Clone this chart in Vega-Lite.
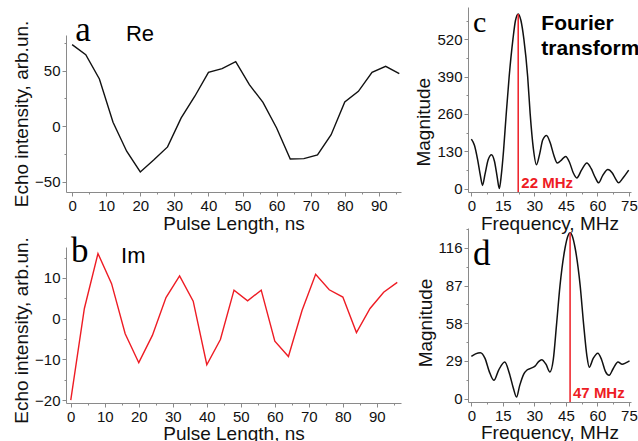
{
  "$schema": "https://vega.github.io/schema/vega-lite/v6.json",
  "padding": {"left": 12, "top": 7, "right": 0, "bottom": 0},
  "background": "white",
  "datasets": {
    "echo": [
      {"t": 0, "re": 73.3, "im": -20},
      {"t": 4, "re": 64.3, "im": 2.5},
      {"t": 8, "re": 42.5, "im": 16.0},
      {"t": 12, "re": 3.6, "im": 8.6},
      {"t": 16, "re": -22.4, "im": -3.7},
      {"t": 20, "re": -41, "im": -10.8},
      {"t": 24, "re": -30, "im": -4.1},
      {"t": 28, "re": -18.5, "im": 5.2},
      {"t": 32, "re": 7.5, "im": 10.5},
      {"t": 36, "re": 27, "im": 4.3},
      {"t": 40, "re": 48.5, "im": -11.3},
      {"t": 44, "re": 51.8, "im": -5.1},
      {"t": 48, "re": 58, "im": 7.0},
      {"t": 52, "re": 37.4, "im": 4.4},
      {"t": 56, "re": 21.5, "im": 7.0},
      {"t": 60, "re": -1.5, "im": -5.5},
      {"t": 64, "re": -29.3, "im": -9.3},
      {"t": 68, "re": -29, "im": 2.0},
      {"t": 72, "re": -25.7, "im": 10.9},
      {"t": 76, "re": -7.5, "im": 7.1},
      {"t": 80, "re": 21.9, "im": 5.3},
      {"t": 84, "re": 31.4, "im": -3.4},
      {"t": 88, "re": 48.5, "im": 2.5},
      {"t": 92, "re": 53.9, "im": 6.5},
      {"t": 96, "re": 47.3, "im": 8.9}
    ],
    "fc": [
      {"f": 0, "m": 172}, {"f": 1.5, "m": 150}, {"f": 3, "m": 100}, {"f": 4.3, "m": 45}, {"f": 5.3, "m": 11},
      {"f": 6.5, "m": 50}, {"f": 8, "m": 100}, {"f": 9.6, "m": 118}, {"f": 11, "m": 95}, {"f": 12.3, "m": 40},
      {"f": 13.3, "m": 0}, {"f": 14.3, "m": 50}, {"f": 15.3, "m": 130}, {"f": 16.5, "m": 250}, {"f": 18, "m": 390},
      {"f": 19.8, "m": 520}, {"f": 21, "m": 585}, {"f": 22.3, "m": 608}, {"f": 23.6, "m": 585}, {"f": 25, "m": 520},
      {"f": 26.8, "m": 390}, {"f": 28, "m": 260}, {"f": 29.5, "m": 140}, {"f": 31, "m": 83}, {"f": 32.5, "m": 120},
      {"f": 34, "m": 170}, {"f": 35.8, "m": 185}, {"f": 37.5, "m": 160}, {"f": 39.3, "m": 115}, {"f": 40.9, "m": 89},
      {"f": 43, "m": 100}, {"f": 44.9, "m": 112}, {"f": 46.8, "m": 90}, {"f": 48.5, "m": 55}, {"f": 50.2, "m": 37},
      {"f": 52.5, "m": 65}, {"f": 55, "m": 89}, {"f": 57, "m": 70}, {"f": 59, "m": 38}, {"f": 60.6, "m": 20},
      {"f": 62.5, "m": 45}, {"f": 65, "m": 66}, {"f": 67, "m": 55}, {"f": 68.8, "m": 32}, {"f": 70.1, "m": 20},
      {"f": 72, "m": 35}, {"f": 74.9, "m": 64}
    ],
    "fd": [
      {"f": 0, "m": 32.6}, {"f": 2, "m": 34.5}, {"f": 4.3, "m": 35.4}, {"f": 6.5, "m": 31}, {"f": 8.5, "m": 21},
      {"f": 10.7, "m": 14.1}, {"f": 13, "m": 22}, {"f": 15.9, "m": 28.2}, {"f": 18, "m": 20}, {"f": 20, "m": 8},
      {"f": 21.5, "m": 1.2}, {"f": 23, "m": 10}, {"f": 25, "m": 19}, {"f": 26.5, "m": 22}, {"f": 28.5, "m": 23.5},
      {"f": 30.3, "m": 25}, {"f": 32, "m": 28.5}, {"f": 33.5, "m": 30}, {"f": 35.5, "m": 26.5}, {"f": 37.4, "m": 20.5},
      {"f": 39, "m": 30}, {"f": 40.6, "m": 58}, {"f": 42.2, "m": 87}, {"f": 44.6, "m": 116}, {"f": 46, "m": 125.5},
      {"f": 47, "m": 127.7}, {"f": 48, "m": 125.5}, {"f": 49.4, "m": 116}, {"f": 51.8, "m": 87}, {"f": 53.4, "m": 58},
      {"f": 55, "m": 33}, {"f": 56.1, "m": 24.2}, {"f": 58, "m": 31}, {"f": 60.2, "m": 35}, {"f": 62, "m": 30},
      {"f": 63.8, "m": 21}, {"f": 65.6, "m": 18}, {"f": 67.5, "m": 23}, {"f": 69.8, "m": 28.2}, {"f": 71.8, "m": 26.5},
      {"f": 73.5, "m": 27.5}, {"f": 75.3, "m": 29}
    ],
    "peaks": [
      {"panel": "c", "f": 22.3, "m": 608},
      {"panel": "d", "f": 47, "m": 127.7}
    ],
    "one": [{}]
  },
  "columns": 2,
  "spacing": {"row": 36, "column": 67},
  "bounds": "flush",
  "concat": [
    {
      "width": 335,
      "height": 185,
      "layer": [
        {
          "data": {"name": "echo"},
          "mark": {"type": "line", "color": "#111111", "strokeWidth": 1.4},
          "encoding": {
            "x": {
              "field": "t", "type": "quantitative",
              "scale": {"domain": [-1.8, 96.5], "nice": false, "zero": false},
              "axis": {
                "title": "Pulse Length, ns",
                "values": [0, 5, 10, 15, 20, 25, 30, 35, 40, 45, 50, 55, 60, 65, 70, 75, 80, 85, 90, 95],
                "tickCount": 100,
                "format": "d",
                "labelExpr": "datum.value % 10 === 0 ? datum.label : ''",
                "labelOverlap": false,
                "tickSize": {"condition": {"test": "datum.value % 10 === 0", "value": 4}, "value": 2},
                "titlePadding": 1
              }
            },
            "y": {
              "field": "re", "type": "quantitative",
              "scale": {"domain": [-59, 82], "nice": false, "zero": false, "range": [185, 28]},
              "axis": {
                "title": "Echo intensity, arb.un.",
                "values": [-50, -25, 0, 25, 50, 75],
                "tickCount": 100,
                "format": "d",
                "labelExpr": "datum.value % 50 === 0 ? datum.label : ''",
                "labelOverlap": false,
                "tickSize": {"condition": {"test": "datum.value % 50 === 0", "value": 4}, "value": 2}
              }
            }
          }
        },
        {
          "data": {"name": "one"},
          "mark": {"type": "text", "text": "a", "font": "Liberation Serif", "fontSize": 35, "align": "left", "baseline": "alphabetic", "color": "#000000"},
          "encoding": {"x": {"datum": 0.9, "type": "quantitative"}, "y": {"datum": 76.3, "type": "quantitative"}}
        },
        {
          "data": {"name": "one"},
          "mark": {"type": "text", "text": "Re", "font": "Liberation Sans", "fontSize": 22, "align": "left", "baseline": "alphabetic", "color": "#000000"},
          "encoding": {"x": {"datum": 15.8, "type": "quantitative"}, "y": {"datum": 76.3, "type": "quantitative"}}
        }
      ]
    },
    {
      "width": 163,
      "height": 185,
      "layer": [
        {
          "data": {"name": "fc"},
          "mark": {"type": "line", "color": "#111111", "strokeWidth": 1.5, "interpolate": "monotone"},
          "encoding": {
            "x": {
              "field": "f", "type": "quantitative",
              "scale": {"domain": [-1.6, 76], "nice": false, "zero": false},
              "axis": {
                "title": "Frequency, MHz",
                "values": [0, 7.5, 15, 22.5, 30, 37.5, 45, 52.5, 60, 67.5, 75],
                "tickCount": 100,
                "format": "d",
                "labelExpr": "datum.value % 15 === 0 ? datum.label : ''",
                "labelOverlap": false,
                "tickSize": {"condition": {"test": "datum.value % 15 === 0", "value": 4}, "value": 2},
                "titlePadding": 1
              }
            },
            "y": {
              "field": "m", "type": "quantitative",
              "scale": {"domain": [-12, 632], "nice": false, "zero": false},
              "axis": {
                "title": "Magnitude",
                "values": [0, 65, 130, 195, 260, 325, 390, 455, 520, 585],
                "tickCount": 100,
                "format": "d",
                "labelExpr": "datum.value % 130 === 0 ? datum.label : ''",
                "labelOverlap": false,
                "tickSize": {"condition": {"test": "datum.value % 130 === 0", "value": 4}, "value": 2},
                "titleY": 114.7
              }
            }
          }
        },
        {
          "data": {"name": "peaks"},
          "transform": [{"filter": "datum.panel === 'c'"}],
          "mark": {"type": "rule", "color": "#ee1c24", "strokeWidth": 1.5},
          "encoding": {
            "x": {"field": "f", "type": "quantitative"},
            "y": {"field": "m", "type": "quantitative"},
            "y2": {"datum": -12}
          }
        },
        {
          "data": {"name": "one"},
          "mark": {"type": "text", "text": "c", "font": "Liberation Serif", "fontSize": 30, "align": "left", "baseline": "alphabetic", "color": "#000000"},
          "encoding": {"x": {"datum": 0.8, "type": "quantitative"}, "y": {"datum": 546, "type": "quantitative"}}
        },
        {
          "data": {"name": "one"},
          "mark": {"type": "text", "text": ["Fourier", "transform"], "font": "Liberation Sans", "fontWeight": "bold", "fontSize": 21, "lineHeight": 25, "align": "left", "baseline": "alphabetic", "color": "#000000"},
          "encoding": {"x": {"datum": 33.3, "type": "quantitative"}, "y": {"datum": 552, "type": "quantitative"}}
        },
        {
          "data": {"name": "one"},
          "mark": {"type": "text", "text": "22 MHz", "font": "Liberation Sans", "fontWeight": "bold", "fontSize": 15, "align": "left", "baseline": "alphabetic", "color": "#ee1c24"},
          "encoding": {"x": {"datum": 23.8, "type": "quantitative"}, "y": {"datum": 1, "type": "quantitative"}}
        }
      ]
    },
    {
      "width": 335,
      "height": 175,
      "layer": [
        {
          "data": {"name": "echo"},
          "mark": {"type": "line", "color": "#ee1c24", "strokeWidth": 1.4},
          "encoding": {
            "x": {
              "field": "t", "type": "quantitative",
              "scale": {"domain": [-1.4, 97.1], "nice": false, "zero": false},
              "axis": {
                "title": "Pulse Length, ns",
                "values": [0, 5, 10, 15, 20, 25, 30, 35, 40, 45, 50, 55, 60, 65, 70, 75, 80, 85, 90, 95],
                "tickCount": 100,
                "format": "d",
                "labelExpr": "datum.value % 10 === 0 ? datum.label : ''",
                "labelOverlap": false,
                "tickSize": {"condition": {"test": "datum.value % 10 === 0", "value": 4}, "value": 2},
                "titlePadding": 0
              }
            },
            "y": {
              "field": "im", "type": "quantitative",
              "scale": {"domain": [-20.7, 17.6], "nice": false, "zero": false, "range": [175, 19]},
              "axis": {
                "title": "Echo intensity, arb.un.",
                "values": [-20, -15, -10, -5, 0, 5, 10, 15],
                "tickCount": 100,
                "format": "d",
                "labelExpr": "datum.value % 10 === 0 ? datum.label : ''",
                "labelOverlap": false,
                "tickSize": {"condition": {"test": "datum.value % 10 === 0", "value": 4}, "value": 2},
                "titleY": 102
              }
            }
          }
        },
        {
          "data": {"name": "one"},
          "mark": {"type": "text", "text": "b", "font": "Liberation Serif", "fontSize": 35, "align": "left", "baseline": "alphabetic", "color": "#000000"},
          "encoding": {"x": {"datum": 0.1, "type": "quantitative"}, "y": {"datum": 14, "type": "quantitative"}}
        },
        {
          "data": {"name": "one"},
          "mark": {"type": "text", "text": "Im", "font": "Liberation Sans", "fontSize": 22, "align": "left", "baseline": "alphabetic", "color": "#000000"},
          "encoding": {"x": {"datum": 14.8, "type": "quantitative"}, "y": {"datum": 13.6, "type": "quantitative"}}
        }
      ]
    },
    {
      "width": 163,
      "height": 174,
      "layer": [
        {
          "data": {"name": "fd"},
          "mark": {"type": "line", "color": "#111111", "strokeWidth": 1.5, "interpolate": "monotone"},
          "encoding": {
            "x": {
              "field": "f", "type": "quantitative",
              "scale": {"domain": [-1.6, 76], "nice": false, "zero": false},
              "axis": {
                "title": "Frequency, MHz",
                "values": [0, 7.5, 15, 22.5, 30, 37.5, 45, 52.5, 60, 67.5, 75],
                "tickCount": 100,
                "format": "d",
                "labelExpr": "datum.value % 15 === 0 ? datum.label : ''",
                "labelOverlap": false,
                "tickSize": {"condition": {"test": "datum.value % 15 === 0", "value": 4}, "value": 2},
                "titlePadding": 0
              }
            },
            "y": {
              "field": "m", "type": "quantitative",
              "scale": {"domain": [-2.6, 131.4], "nice": false, "zero": false},
              "axis": {
                "title": "Magnitude",
                "values": [0, 14.5, 29, 43.5, 58, 72.5, 87, 101.5, 116, 130.5],
                "tickCount": 100,
                "format": "d",
                "labelExpr": "datum.value % 29 === 0 ? datum.label : ''",
                "labelOverlap": false,
                "tickSize": {"condition": {"test": "datum.value % 29 === 0", "value": 4}, "value": 2},
                "titleY": 94.5
              }
            }
          }
        },
        {
          "data": {"name": "peaks"},
          "transform": [{"filter": "datum.panel === 'd'"}],
          "mark": {"type": "rule", "color": "#ee1c24", "strokeWidth": 1.5},
          "encoding": {
            "x": {"field": "f", "type": "quantitative"},
            "y": {"field": "m", "type": "quantitative"},
            "y2": {"datum": -2.6}
          }
        },
        {
          "data": {"name": "one"},
          "mark": {"type": "text", "text": "d", "font": "Liberation Serif", "fontSize": 35, "align": "left", "baseline": "alphabetic", "color": "#000000"},
          "encoding": {"x": {"datum": 0.8, "type": "quantitative"}, "y": {"datum": 102.9, "type": "quantitative"}}
        },
        {
          "data": {"name": "one"},
          "mark": {"type": "text", "text": "47 MHz", "font": "Liberation Sans", "fontWeight": "bold", "fontSize": 15, "align": "left", "baseline": "alphabetic", "color": "#ee1c24"},
          "encoding": {"x": {"datum": 48.4, "type": "quantitative"}, "y": {"datum": 0.4, "type": "quantitative"}}
        }
      ]
    }
  ],
  "config": {
    "view": {"stroke": null},
    "font": "Liberation Sans",
    "axis": {
      "grid": false,
      "domainColor": "#8a8a8a",
      "tickColor": "#8a8a8a",
      "domainWidth": 1,
      "tickWidth": 1,
      "labelFont": "Liberation Sans",
      "labelFontSize": 15,
      "labelColor": "#111111",
      "labelPadding": 2,
      "labelOverlap": false,
      "labelFlush": false,
      "titleFont": "Liberation Sans",
      "titleFontSize": 19,
      "titleFontWeight": "normal",
      "titleColor": "#111111",
      "titlePadding": 3
    }
  }
}
